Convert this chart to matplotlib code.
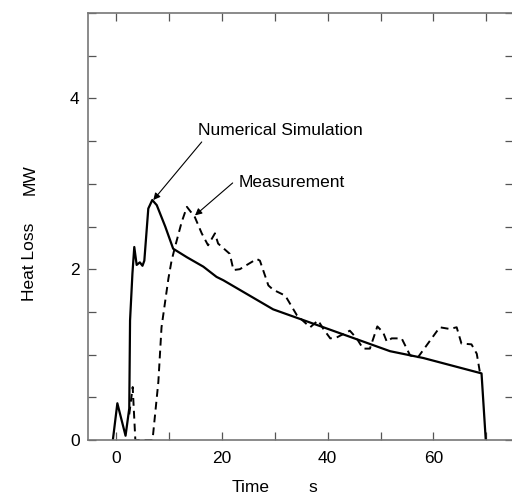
import matplotlib
matplotlib.use("Agg")
import matplotlib.pyplot as plt

plt.rcParams['font.family'] = ['Liberation Sans', 'DejaVu Sans']

sim_t = [-0.6, 0.25, 1.8, 2.5, 2.65, 3.1, 3.45, 3.9, 4.5, 5.0, 5.35, 6.1, 6.85,
         7.7, 9.3, 10.8, 13.4, 16.5, 19.0, 20.3, 29.7, 39.2, 51.8, 58.1, 69.1, 69.9]
sim_p = [0.0, 0.43, 0.05, 0.37, 1.4, 1.95, 2.26, 2.05, 2.08, 2.04, 2.1, 2.71, 2.81,
         2.75, 2.5, 2.24, 2.14, 2.03, 1.91, 1.87, 1.53, 1.32, 1.04, 0.96, 0.78, 0.0]

meas_t = [2.5, 3.15, 3.65, 6.9, 8.0, 8.6, 9.9, 10.5, 11.15, 12.4, 13.4, 14.9, 16.2,
          17.4, 18.7, 19.3, 21.5, 22.2, 23.4, 26.6, 27.2, 28.8, 29.7, 32.0, 34.2,
          36.7, 38.2, 39.2, 40.5, 41.7, 44.2, 45.5, 46.7, 48.0, 49.4, 50.5, 51.2,
          52.1, 54.0, 55.6, 57.1, 61.2, 63.1, 64.4, 65.3, 67.2, 68.2, 68.8]
meas_p = [0.3, 0.62, 0.0, 0.0, 0.68, 1.32, 1.89, 2.1, 2.26, 2.55, 2.73, 2.61, 2.42,
          2.28, 2.42, 2.3, 2.18, 1.99, 2.0, 2.12, 2.1, 1.81, 1.76, 1.69, 1.46,
          1.32, 1.40, 1.30, 1.19, 1.2, 1.28, 1.19, 1.07, 1.07, 1.33, 1.26, 1.15,
          1.19, 1.19, 0.99, 0.97, 1.32, 1.30, 1.32, 1.13, 1.12, 1.01, 0.79]

x_ticks = [0, 20, 40, 60]
y_ticks = [0, 2, 4]

fig = plt.figure(figsize=(5.12, 5.0), dpi=100)
ax = fig.add_axes([88/512, 60/500, 425/512, 427/500])

ax.plot(sim_t, sim_p, color='black', lw=1.6, solid_joinstyle='round')
ax.plot(meas_t, meas_p, color='black', lw=1.4, ls=(0, (4, 2.6)))

ax.set_xlim(-5.3, 75.05)
ax.set_ylim(0, 5)
ax.set_xticks(x_ticks)
ax.set_xticks(range(-0, 80, 10), minor=True)
ax.set_yticks(y_ticks)
ax.set_yticks([i * 0.5 for i in range(0, 11)], minor=True)
ax.tick_params(which='both', direction='in', top=True, right=True, length=6,
               width=0.9, color='#555555', labelsize=12.5)
ax.tick_params(axis='x', pad=8)
ax.tick_params(axis='y', pad=6)
for s in ax.spines.values():
    s.set_color('#777777')
    s.set_linewidth(1.2)

arrow = dict(arrowstyle='-|>', color='black', lw=0.8, mutation_scale=10,
             shrinkA=0, shrinkB=0)
ax.text(15.5, 3.62, 'Numerical Simulation', fontsize=12.5, ha='left', va='center')
ax.annotate('', xy=(7.05, 2.81), xytext=(16.2, 3.49), arrowprops=arrow)
ax.text(23.1, 3.02, 'Measurement', fontsize=12.5, ha='left', va='center')
ax.annotate('', xy=(14.93, 2.63), xytext=(22.05, 3.01), arrowprops=arrow)

fig.text(251/512, 1 - 488/500, 'Time', fontsize=12.5, ha='center', va='center')
fig.text(313/512, 1 - 488/500, 's', fontsize=12.5, ha='center', va='center')
fig.text(30/512, 1 - 262/500, 'Heat Loss', fontsize=12.5, ha='center', va='center',
         rotation=90)
fig.text(30/512, 1 - 180/500, 'MW', fontsize=12.5, ha='center', va='center',
         rotation=90)

fig.savefig('out.png', dpi=100)
